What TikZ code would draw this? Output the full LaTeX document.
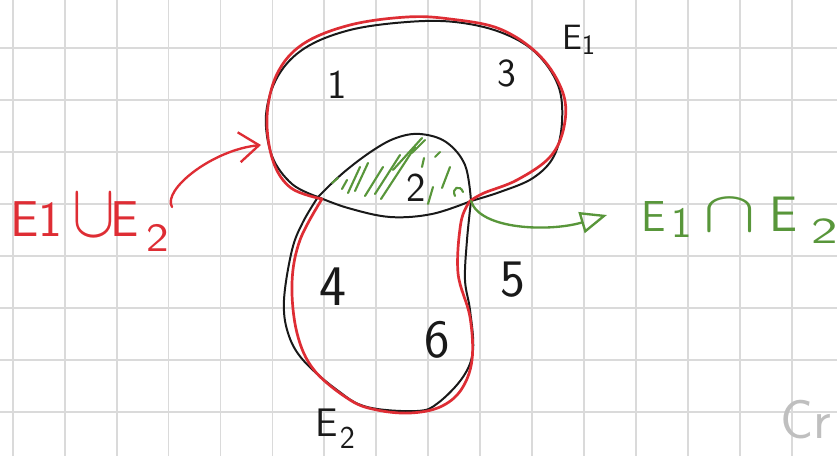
\documentclass[tikz,border=0pt]{standalone}
\usepackage{fontspec}
\usepackage{tikz}
\usetikzlibrary{arrows.meta}

\definecolor{ink}{RGB}{25,25,25}
\definecolor{penred}{RGB}{222,45,52}
\definecolor{pengreen}{RGB}{88,150,58}
\definecolor{gridgray}{RGB}{218,218,218}

\newcommand{\fsz}[1]{\sffamily\fontsize{#1}{#1}\selectfont}
\newcommand{\idx}[2][0.4ex]{\raisebox{-#1}{\scalebox{0.8}{#2}}}
\newcommand{\setop}[4]{\makebox[#1][c]{\scalebox{#2}[#3]{$#4$}}}

\begin{document}
\begin{tikzpicture}[
    x=0.03cm, y=-0.03cm,
    gridline/.style={draw=gridgray, line width=1.6pt},
    inkline/.style={draw=ink, line width=1.7pt, line cap=round},
    unionline/.style={draw=penred, line width=2.3pt, line cap=round},
    hatch/.style={draw=pengreen, line width=1.8pt, line cap=round},
    region/.style={inner sep=0pt, text=ink},
    pointer/.style={line width=2pt, line cap=round},
]

% --- Paper ---
\fill[white] (0,0) rectangle (837,456);
\useasboundingbox (0,0) rectangle (837,456);
\foreach \gx in {0,...,15}
    \draw[gridline] ({12.7+51.95*\gx},0) -- ++(0,456);
\foreach \gy in {0,...,7}
    \draw[gridline] (0,{48+52*\gy}) -- ++(837,0);

% --- Crossing points of E1 and E2 ---
\coordinate (L) at (318,197);
\coordinate (R) at (471,201);

% --- E1 (black) ---
\draw[inkline] plot[smooth, tension=0.6] coordinates {
    (318,197) (292,184) (272,156) (266,115) (278,76) (305,48)
    (350,30) (407,22) (455,22) (500,32) (535,52) (558,85)
    (562,122) (554,156) (533,178) (500,192) (471,201)};
\draw[inkline] plot[smooth, tension=0.6] coordinates {
    (471,201) (432,214) (390,217) (348,208) (318,197)};

% --- E2 (black) ---
\draw[inkline] plot[smooth, tension=0.6] coordinates {
    (318,197) (303,222) (292,250) (284,300) (288,333) (303,360)
    (337,390) (367,407) (417,411) (438,403) (463,377) (473,350)
    (470,310) (465,280) (467,240) (471,201)};
\draw[inkline] plot[smooth, tension=0.6] coordinates {
    (471,201) (465,165) (446,142) (420,134) (396,138) (372,151)
    (343,173) (318,197)};

% --- E1 u E2 (red outline) ---
\draw[unionline] plot[smooth, tension=0.6] coordinates {
    (322,199) (291,188) (273,161) (267,117) (277,74) (303,44)
    (350,25) (407,17) (450,19) (500,29) (540,56) (563,93)
    (564,127) (550,157) (517,180) (484,193) (470,201)};
\draw[unionline] plot[smooth, tension=0.6] coordinates {
    (470,201) (461,222) (458,273) (470,317) (472,360) (461,390)
    (440,407) (410,413) (377,410) (350,400) (314,370) (297,333)
    (292,283) (300,240) (322,199)};

% --- E1 n E2 (green hatching) ---
\foreach \ax/\ay/\bx/\by in {332/183/338/178, 342/189/347/180,
    348/193/360/167, 355/191/368/163, 365/196/383/167,
    375/194/400/155, 381/199/415/147, 393/170/422/138,
    412/153/425/140, 422/167/424/158, 435/157/440/152,
    428/204/433/187, 442/188/450/167}
    \draw[hatch] (\ax,\ay) -- (\bx,\by);
\draw[hatch] (455,196) .. controls (451,188) and (460,184) .. (463,192);

% --- Region numbers ---
\node[region, font=\fsz{35}] (one) at (337,85) {1};
\node[region, font=\fsz{34}] (three) at (507,73) {3};
\node[region, font=\fsz{35}] (two) at (416,188) {2};
\node[region, font=\fsz{49}] (four) at (333,287) {4};
\node[region, font=\fsz{45}] (five) at (513,280) {5};
\node[region, font=\fsz{46}] (six) at (437,340) {6};

% --- Set names ---
\node[region, font=\fsz{30}, anchor=base west] (nameE1) at (562,50)
    {E\idx[0.3ex]{1}};
\node[region, font=\fsz{34}, anchor=base west] (nameE2) at (315,436)
    {E\hspace{2pt}\idx[0.7ex]{2}};

% --- Union and intersection labels ---
\node[inner sep=0pt, text=penred, font=\fsz{43}, anchor=base west]
    (unionLbl) at (10,237)
    {E1\hspace{15pt}\setop{24pt}{2.2}{2.6}{\cup}\hspace{2pt}E\hspace{7pt}\raisebox{-0.65ex}{\scalebox{0.95}[0.8]{2}}};
\node[inner sep=0pt, text=pengreen, font=\fsz{37}, anchor=base west]
    (interLbl) at (641,232)
    {E\hspace{5pt}\raisebox{-0.3ex}{1}\hspace{20pt}\setop{25pt}{2.7}{2.0}{\cap}\hspace{21pt}\scalebox{1.15}{E}\hspace{12pt}\raisebox{-10pt}{\scalebox{1.3}[0.85]{2}}};

\coordinate (uFrom) at (172,207);
\coordinate (uTip) at (261,145);
\coordinate (gTip) at (607,215);

\draw[pointer, penred, -{Straight Barb[length=6mm, width=9mm]}]
    (uFrom) .. controls (162,190) and (212,150) .. (uTip);
\draw[pointer, pengreen, -{Triangle[open, length=8mm, width=6.5mm]}]
    (R) .. controls (480,230) and (550,232) .. (gTip);

% --- Watermark fragment ---
\node[inner sep=0pt, text=black!25, font=\fsz{47}, anchor=base west]
    (mark) at (780,438) {Cr};

\end{tikzpicture}
\end{document}
